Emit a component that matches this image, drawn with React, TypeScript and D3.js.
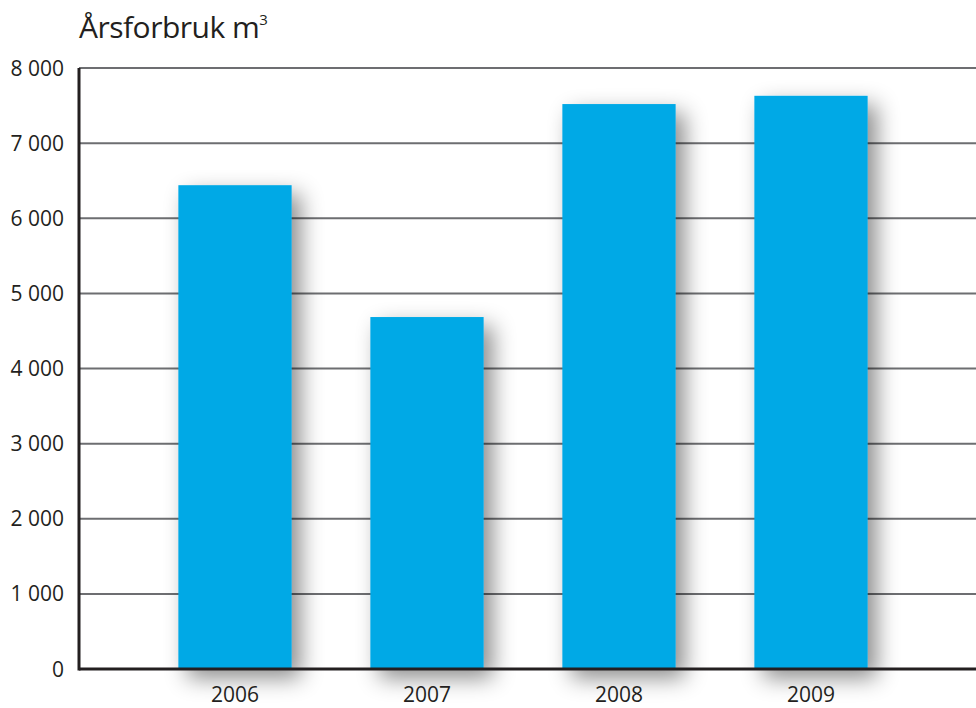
import React from "react";
import * as d3 from "d3";

const years = ["2006", "2007", "2008", "2009"];
const consumption = [6440, 4685, 7520, 7630];
const yTicks = [0, 1000, 2000, 3000, 4000, 5000, 6000, 7000, 8000];
const titleText = "Årsforbruk m";
const titleSup = "3";

const W = 976;
const H = 708;
const FONT = "'Open Sans', 'DejaVu Sans', sans-serif";

export default function App() {
  const x = d3.scaleBand<string>().domain(years).range([139, 907]).paddingInner(0.41).paddingOuter(0.205);
  const y = d3.scaleLinear().domain([0, 8000]).range([669, 68]);
  const fmt = (v: number) => d3.format(",")(v).replace(/,/g, " ");
  const axisX = 79;

  return (
    <svg width={W} height={H} style={{ position: "absolute", left: 0, top: 0, background: "#fff" }}>
      <defs>
        <filter id="shadow" x="-40%" y="-20%" width="200%" height="160%">
          <feDropShadow dx="9" dy="9" stdDeviation="11" floodColor="#000" floodOpacity="0.45" />
        </filter>
      </defs>
      <text x={79} y={38} fontFamily={FONT} fontSize={30} fill="#231f20" letterSpacing={-0.5}>
        {titleText}
        <tspan fontSize={15} dy={-13}>{titleSup}</tspan>
      </text>
      {yTicks.map((t) => (
        <g key={t}>
          {t > 0 && (
            <line x1={axisX} x2={W} y1={y(t)} y2={y(t)} stroke="#6d6e71" strokeWidth={2} />
          )}
          <text x={64} y={y(t)} dy="0.36em" textAnchor="end" fontFamily={FONT} fontSize={21} fill="#231f20">
            {fmt(t)}
          </text>
        </g>
      ))}
      {years.map((yr, i) => (
        <rect
          key={yr}
          x={x(yr)}
          y={y(consumption[i])}
          width={x.bandwidth()}
          height={y(0) - y(consumption[i])}
          fill="#00a9e6"
          filter="url(#shadow)"
        />
      ))}
      <line x1={axisX} x2={W} y1={y(0)} y2={y(0)} stroke="#231f20" strokeWidth={3} />
      <line x1={axisX} x2={axisX} y1={y(8000)} y2={y(0) + 1.5} stroke="#231f20" strokeWidth={3} />
      {years.map((yr) => (
        <text
          key={yr}
          x={(x(yr) as number) + x.bandwidth() / 2}
          y={702}
          textAnchor="middle"
          fontFamily={FONT}
          fontSize={21}
          fill="#231f20"
        >
          {yr}
        </text>
      ))}
    </svg>
  );
}
